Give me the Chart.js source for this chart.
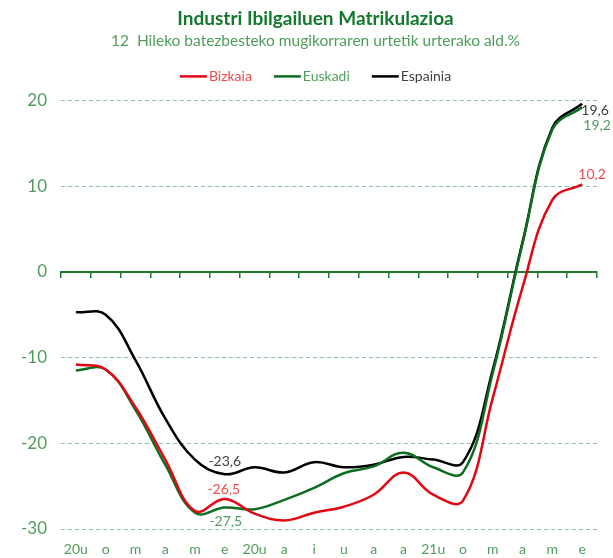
<!DOCTYPE html>
<html>
<head>
<meta charset="utf-8">
<script src="https://cdn.jsdelivr.net/npm/chart.js@4"></script>
<style>
  html, body { margin: 0; padding: 0; background: #fff; }
  #wrap { width: 613px; height: 558px; }
</style>
</head>
<body>
<div id="wrap"><canvas id="myChart" width="613" height="558"></canvas></div>
<script>
// hilabeteak: 2020 urtarrila - 2021 ekaina
const months = ['20u', 'o', 'm', 'a', 'm', 'e', '20u', 'a', 'i', 'u', 'a', 'a', '21u', 'o', 'm', 'a', 'm', 'e'];
const bizkaia = [-10.8, -11.4, -15.8, -21.9, -27.9, -26.5, -28.2, -29.0, -28.1, -27.4, -26.0, -23.4, -26.0, -26.7, -14.7, -1.8, 8.4, 10.2];
const euskadi = [-11.5, -11.4, -16.1, -22.5, -28.1, -27.5, -27.7, -26.6, -25.2, -23.5, -22.7, -21.1, -22.8, -23.4, -11.8, 3.3, 16.6, 19.2];
const espainia = [-4.7, -5.0, -10.3, -17.1, -21.9, -23.6, -22.8, -23.4, -22.2, -22.8, -22.5, -21.6, -21.9, -22.2, -11.4, 3.5, 16.8, 19.6];
const yTicks = [20, 10, 0, -10, -20, -30];

const GREEN_TXT = '#4f9d5c';
const GRID = '#93c49b';
const AXIS = '#1d7a2e';

Chart.defaults.font.family = 'Lato';

// balioen etiketak puntu jakin batzuetan
const valueLabels = {
    id: 'valueLabels',
    afterDatasetsDraw(chart, args, opts) {
        const ctx = chart.ctx;
        ctx.save();
        ctx.font = '14px Lato';
        ctx.textAlign = 'center';
        ctx.textBaseline = 'middle';
        opts.items.forEach(item => {
            const pt = chart.getDatasetMeta(item.ds).data[item.i];
            const v = chart.data.datasets[item.ds].data[item.i];
            ctx.fillStyle = item.color;
            ctx.fillText(v.toFixed(1).replace('.', ','), pt.x + item.dx, pt.y + item.dy);
        });
        ctx.restore();
    }
};

// legenda: marra eta testua elkarren ondoan
const lineLegend = {
    id: 'lineLegend',
    afterDraw(chart) {
        const ctx = chart.ctx;
        const sets = chart.data.datasets;
        const lineW = 27, gap = 2, sep = 22;
        ctx.save();
        ctx.font = '14px Lato';
        ctx.textBaseline = 'middle';
        const widths = sets.map(d => ctx.measureText(d.label).width);
        const total = widths.reduce((a, w) => a + lineW + gap + w, 0) + sep * (sets.length - 1);
        const tb = chart.titleBlock;
        const cx = tb ? (tb.left + tb.right) / 2 : chart.width / 2;
        const y = chart.chartArea.top - 24;
        let x = cx - total / 2;
        sets.forEach((d, i) => {
            ctx.strokeStyle = d.borderColor;
            ctx.lineWidth = 2.5;
            ctx.beginPath();
            ctx.moveTo(x, y);
            ctx.lineTo(x + lineW, y);
            ctx.stroke();
            x += lineW + gap;
            ctx.fillStyle = d.textColor;
            ctx.fillText(d.label, x, y);
            x += widths[i] + sep;
        });
        ctx.restore();
    }
};

const ctx = document.getElementById('myChart').getContext('2d');
const chart = new Chart(ctx, {
    type: 'line',
    data: {
        labels: months,
        datasets: [
            { label: 'Bizkaia', data: bizkaia, borderColor: '#e30613', textColor: '#f04a4a' },
            { label: 'Euskadi', data: euskadi, borderColor: '#0d6e1f', textColor: GREEN_TXT },
            { label: 'Espainia', data: espainia, borderColor: '#000000', textColor: '#404040' }
        ].map(d => Object.assign(d, {
            borderWidth: 2.5,
            pointRadius: 0,
            tension: 0.4,
            fill: false
        }))
    },
    options: {
        responsive: false,
        animation: false,
        layout: { padding: { left: 18, right: 0, top: 0, bottom: 0 } },
        plugins: {
            title: {
                display: true,
                text: 'Industri Ibilgailuen Matrikulazioa',
                color: '#127a2c',
                font: { size: 19, weight: 'bold' },
                padding: { top: 7, bottom: 0 }
            },
            subtitle: {
                display: true,
                text: '12  Hileko batezbesteko mugikorraren urtetik urterako ald.%',
                color: GREEN_TXT,
                font: { size: 15.5 },
                padding: { top: 2, bottom: 50 }
            },
            legend: { display: false },
            tooltip: { enabled: false },
            valueLabels: {
                items: [
                    { ds: 2, i: 5, dx: 0, dy: -13, color: '#404040' },
                    { ds: 0, i: 5, dx: -1, dy: -10, color: '#f04a4a' },
                    { ds: 1, i: 5, dx: 1, dy: 14, color: GREEN_TXT },
                    { ds: 2, i: 17, dx: 13, dy: 7, color: '#404040' },
                    { ds: 1, i: 17, dx: 15, dy: 18, color: GREEN_TXT },
                    { ds: 0, i: 17, dx: 10, dy: -10, color: '#f04a4a' }
                ]
            }
        },
        scales: {
            x: {
                type: 'category',
                offset: true,
                grid: { display: false, drawTicks: false },
                border: { display: false },
                ticks: { color: GREEN_TXT, font: { size: 14 }, maxRotation: 0, autoSkip: false, padding: 12 },
                afterFit(scale) { scale.height = 29; }
            },
            x0: {
                type: 'category',
                labels: months,
                position: { y: 0 },
                offset: true,
                grid: { display: true, offset: true, drawOnChartArea: false, drawTicks: true, tickLength: 5, color: AXIS, lineWidth: 1.5 },
                border: { display: true, color: AXIS, width: 2 },
                ticks: { display: false }
            },
            y: {
                min: yTicks[yTicks.length - 1],
                max: yTicks[0],
                afterBuildTicks(scale) {
                    scale.ticks = yTicks.map(v => ({ value: v }));
                },
                afterFit(scale) { scale.width = 43; },
                border: { display: false, dash: [4, 3] },
                grid: {
                    drawTicks: false,
                    color: c => c.tick && c.tick.value === 0 ? 'rgba(0,0,0,0)' : GRID,
                    lineWidth: 1
                },
                ticks: { color: GREEN_TXT, font: { size: 17 }, padding: 14 }
            },
            // eskuineko tarte hutsa (izenburua erdiratzeko)
            yRight: {
                type: 'linear',
                position: 'right',
                grid: { display: false, drawTicks: false },
                border: { display: false },
                ticks: { display: false },
                afterFit(scale) { scale.width = 16; }
            }
        }
    },
    plugins: [valueLabels, lineLegend]
});
</script>
</body>
</html>
